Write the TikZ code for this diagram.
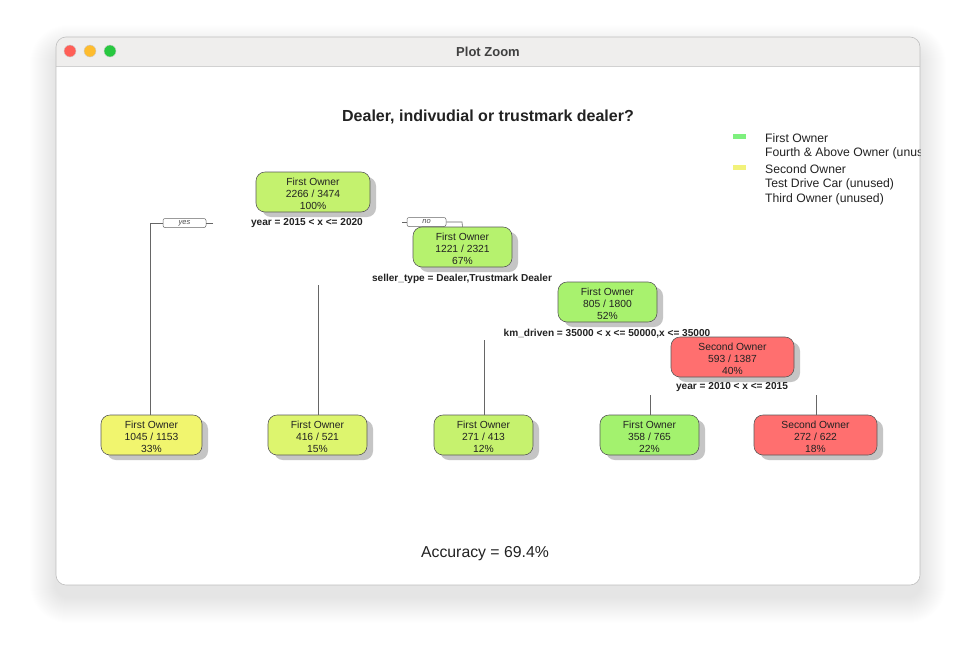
\documentclass[tikz,border=0pt]{standalone}
\usepackage{fontspec}
\setmainfont{Liberation Sans}
\usetikzlibrary{shadows}
\definecolor{winbar}{HTML}{EFEEED}
\definecolor{cA}{HTML}{C4F26E}
\definecolor{cB}{HTML}{B6F26E}
\definecolor{cC}{HTML}{A8F26E}
\definecolor{cRed}{HTML}{FF6F6F}
\definecolor{cL1}{HTML}{F1F56E}
\definecolor{cL2}{HTML}{DDF56E}
\definecolor{cL3}{HTML}{C6F26E}
\definecolor{cL4}{HTML}{A3F26E}
\definecolor{legG}{HTML}{7EF07E}
\definecolor{legY}{HTML}{F2F27A}
\definecolor{txt}{HTML}{222222}
\definecolor{tlR}{HTML}{FF5F57}
\definecolor{tlY}{HTML}{FEBC2E}
\definecolor{tlG}{HTML}{28C840}
\newcommand\tup{\rule{0pt}{11pt}}
\tikzset{
  tnode/.style={draw=black!65, line width=0.6pt, rounded corners=9pt, minimum height=40pt,
    inner sep=0pt, align=center, text=txt, font=\fontsize{10.3}{11.8}\selectfont,
    drop shadow={shadow xshift=6pt, shadow yshift=-5pt, fill=black!35, opacity=0.65}},
  split/.style={font=\bfseries\fontsize{10.1}{11}\selectfont, text=txt, inner sep=0pt},
  conn/.style={draw=black!60, line width=0.6pt},
  lab/.style={draw=black!60, line width=0.5pt, rounded corners=2pt, minimum width=43pt, minimum height=9pt, inner sep=0pt, font=\itshape\fontsize{7.5}{7.5}\selectfont, text=black!70},
  legtxt/.style={anchor=west, font=\fontsize{12.2}{13}\selectfont, text=txt, inner sep=0pt},
  light/.style={draw=black!20, line width=0.4pt},
}
\begin{document}
\begin{tikzpicture}[x=1pt,y=-1pt]
\useasboundingbox (0,0) rectangle (976,659);
\fill[white] (0,0) rectangle (976,659);
% window shadow
\foreach \i in {1,...,26}{
  \fill[black, opacity=0.0055, rounded corners=12pt+\i pt] (56-\i,37-\i+14) rectangle (920+\i,585+\i+12);
}
% window
\begin{scope}
\clip[rounded corners=10pt] (56,37) rectangle (920,585);
\fill[white] (56,37) rectangle (920,585);
\fill[winbar] (56,37) rectangle (920,66);
\draw[black!18, line width=0.8pt] (56,66) -- (920,66);

\node[font=\bfseries\fontsize{13}{15}\selectfont, text=black!75] (wt) at (488,51.5) {Plot Zoom};

\node[font=\bfseries\fontsize{16}{18}\selectfont, text=txt] (title) at (488,117) {Dealer, indivudial or trustmark dealer?};

% legend
\fill[legG] (733,134) rectangle (746,139);
\fill[legY] (733,165) rectangle (746,170);
\node[legtxt] (l1) at (765,138) {First Owner};
\node[legtxt] (l2) at (765,153) {Fourth \& Above Owner (unused)};
\node[legtxt] (l3) at (765,169) {Second Owner};
\node[legtxt] (l4) at (765,184) {Test Drive Car (unused)};
\node[legtxt] (l5) at (765,199) {Third Owner (unused)};

% connectors
\coordinate (ya) at (213,223);
\coordinate (yb) at (150,223);
\node[lab] (yes) at (184.5,223) {yes};
\node[lab, minimum width=39pt] (no) at (426.5,222) {no};
\coordinate (na) at (402,222);
\coordinate (nb) at (462,222);

% nodes
\node[tnode, fill=cA, minimum width=114pt] (n1) at (313,192) {\tup First Owner\\2266 / 3474\\100\%};
\node[tnode, fill=cB, minimum width=99pt] (n2) at (462.5,247) {\tup First Owner\\1221 / 2321\\67\%};
\node[tnode, fill=cC, minimum width=99pt] (n3) at (607.5,302) {\tup First Owner\\805 / 1800\\52\%};
\node[tnode, fill=cRed, minimum width=123pt] (n4) at (732.5,357) {\tup Second Owner\\593 / 1387\\40\%};

\node[tnode, fill=cL1, minimum width=101pt] (f1) at (151.5,435) {\tup First Owner\\1045 / 1153\\33\%};
\node[tnode, fill=cL2, minimum width=99pt] (f2) at (317.5,435) {\tup First Owner\\416 / 521\\15\%};
\node[tnode, fill=cL3, minimum width=99pt] (f3) at (483.5,435) {\tup First Owner\\271 / 413\\12\%};
\node[tnode, fill=cL4, minimum width=99pt] (f4) at (649.5,435) {\tup First Owner\\358 / 765\\22\%};
\node[tnode, fill=cRed, minimum width=123pt] (f5) at (815.5,435) {\tup Second Owner\\272 / 622\\18\%};

\draw[conn] (ya) -- (yes.east);
\draw[conn] (yes.west) -- (yb) -- (yb |- f1.north);
\draw[conn] (na) -- (no.west);
\draw[conn] (no.east) -- (nb) -- (n2.north);

\coordinate (c2) at (318,285);
\coordinate (c3) at (484,340);
\coordinate (c4) at (650,395);
\coordinate (c5) at (816,395);
\draw[conn] (c2) -- (c2 |- f2.north);
\draw[conn] (c3) -- (c3 |- f3.north);
\draw[conn] (c4) -- (c4 |- f4.north);
\draw[conn] (c5) -- (c5 |- f5.north);

% split labels
\node[split] (s1) at (307,223.5) {year = 2015 < x <= 2020};
\node[split] (s2) at (462,278.5) {seller\_type = Dealer,Trustmark Dealer};
\node[split] (s3) at (607,333.5) {km\_driven = 35000 < x <= 50000,x <= 35000};
\node[split] (s4) at (732,387.5) {year = 2010 < x <= 2015};

\node[font=\fontsize{15.8}{18}\selectfont, text=txt] (acc) at (485,553.5) {Accuracy = 69.4\%};
\end{scope}
\draw[black!25, line width=0.6pt, rounded corners=10pt] (56,37) rectangle (920,585);
% traffic lights
\filldraw[fill=tlR, light] (70,51) circle (6pt);
\filldraw[fill=tlY, light] (90,51) circle (6pt);
\filldraw[fill=tlG, light] (110,51) circle (6pt);
\end{tikzpicture}
\end{document}
